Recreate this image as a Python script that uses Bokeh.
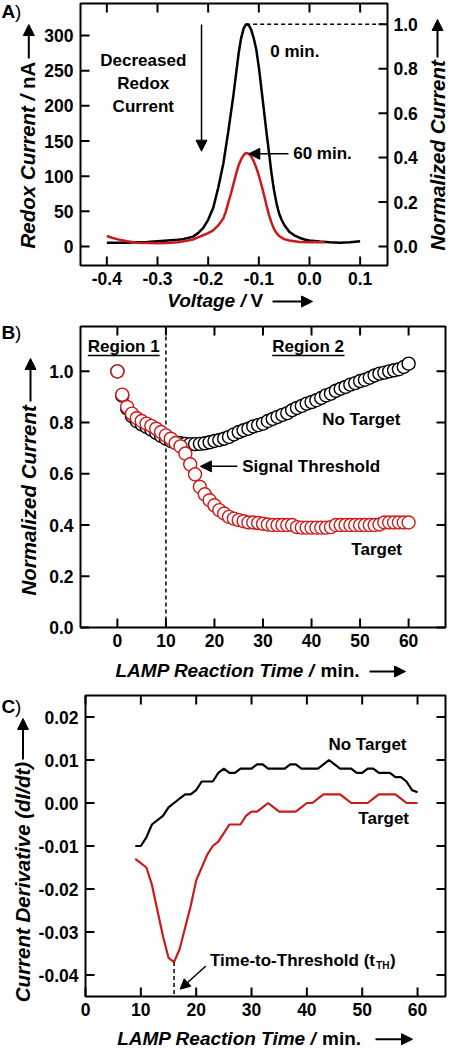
import math
from bokeh.plotting import figure
from bokeh.layouts import column
from bokeh.models import (Range1d, LinearAxis, FixedTicker, PrintfTickFormatter,
                          Label, Arrow, NormalHead)
from bokeh.embed import file_html
from bokeh.resources import INLINE

# ---------------- data ----------------
# Panel A: square-wave voltammograms
voltage_0min = [-0.40, -0.38, -0.36, -0.34, -0.32, -0.30, -0.28, -0.26, -0.25, -0.24, -0.23,
                -0.22, -0.21, -0.20, -0.19, -0.18, -0.17, -0.16, -0.15, -0.14, -0.135, -0.13,
                -0.125, -0.12, -0.115, -0.11, -0.105, -0.10, -0.095, -0.09, -0.085, -0.08,
                -0.075, -0.07, -0.065, -0.06, -0.055, -0.05, -0.04, -0.03, -0.02, -0.01,
                0.00, 0.02, 0.04, 0.06, 0.08, 0.10]
current_0min = [5.5, 5.5, 5.5, 6.0, 6.5, 7.5, 8.5, 9.5, 10.5, 12, 14,
                19, 26, 38, 55, 84, 118, 165, 216, 274, 296, 310,
                316, 315, 308, 296, 280, 255, 225, 194, 163, 134,
                104, 80, 61, 47, 38, 31, 21, 16, 12.5, 10,
                8.5, 7.0, 6.0, 5.5, 6.0, 7.5]
voltage_60min = [-0.40, -0.39, -0.38, -0.37, -0.36, -0.35, -0.34, -0.32, -0.30, -0.28, -0.26,
                 -0.24, -0.23, -0.22, -0.21, -0.20, -0.19, -0.18, -0.17, -0.165, -0.16, -0.155,
                 -0.15, -0.145, -0.14, -0.135, -0.13, -0.125, -0.12, -0.115, -0.11, -0.105,
                 -0.10, -0.095, -0.09, -0.085, -0.08, -0.075, -0.07, -0.065, -0.06, -0.05,
                 -0.04, -0.03, -0.02, 0.00, 0.03]
current_60min = [15, 12.5, 10.5, 9.0, 7.5, 6.5, 5.5, 5.0, 4.5, 5.0, 6.0,
                 8.5, 10, 13, 16, 19, 23, 30, 40, 50, 63, 75,
                 89, 103, 115, 124, 130, 133, 132, 128, 121, 112,
                 101, 88, 74, 59, 45, 34, 25, 19, 15, 10.5,
                 8.5, 7.5, 6.5, 6.0, 6.0]

# Panel B: normalized current vs LAMP time
time_b = list(range(0, 61))
norm_no_target = [1.000, 0.905, 0.855, 0.825, 0.805, 0.793, 0.783, 0.772, 0.760, 0.748,
                  0.737, 0.728, 0.722, 0.719, 0.717, 0.716, 0.716, 0.717, 0.719, 0.723,
                  0.728, 0.732, 0.737, 0.744, 0.754, 0.763, 0.770, 0.776, 0.785, 0.790,
                  0.796, 0.806, 0.814, 0.822, 0.830, 0.837, 0.848, 0.857, 0.865, 0.874,
                  0.880, 0.887, 0.896, 0.906, 0.913, 0.924, 0.932, 0.939, 0.948, 0.954,
                  0.962, 0.967, 0.975, 0.984, 0.991, 0.995, 1.000, 1.004, 1.008, 1.017,
                  1.030]
norm_target = [1.000, 0.909, 0.861, 0.835, 0.817, 0.806, 0.796, 0.787, 0.776, 0.763,
               0.750, 0.737, 0.720, 0.707, 0.679, 0.637, 0.598, 0.549, 0.520, 0.497,
               0.477, 0.458, 0.445, 0.432, 0.425, 0.419, 0.415, 0.410, 0.410, 0.408,
               0.405, 0.402, 0.400, 0.400, 0.400, 0.400, 0.400, 0.392, 0.390, 0.390,
               0.390, 0.390, 0.390, 0.390, 0.392, 0.400, 0.400, 0.400, 0.400, 0.400,
               0.400, 0.400, 0.400, 0.400, 0.402, 0.410, 0.410, 0.410, 0.410, 0.410,
               0.410]

# Panel C: current derivative vs LAMP time
time_c = list(range(9, 61))
deriv_no_target = [-0.010, -0.010, -0.008, -0.005, -0.004, -0.003, -0.001, 0.000, 0.001, 0.002,
                   0.002, 0.003, 0.005, 0.005, 0.005, 0.007, 0.008, 0.007, 0.007, 0.008,
                   0.008, 0.008, 0.009, 0.009, 0.008, 0.008, 0.008, 0.008, 0.009, 0.009,
                   0.008, 0.008, 0.008, 0.008, 0.009, 0.010, 0.009, 0.008, 0.008, 0.008,
                   0.007, 0.007, 0.008, 0.008, 0.007, 0.007, 0.007, 0.006, 0.006, 0.005,
                   0.003, 0.0025]
deriv_target = [-0.013, -0.014, -0.015, -0.019, -0.025, -0.031, -0.036, -0.037, -0.034, -0.029,
                -0.024, -0.018, -0.015, -0.012, -0.010, -0.009, -0.007, -0.005, -0.005, -0.005,
                -0.003, -0.002, -0.002, -0.001, 0.000, -0.001, -0.002, -0.002, -0.002, -0.002,
                -0.001, 0.000, 0.000, 0.001, 0.002, 0.002, 0.002, 0.002, 0.001, 0.000,
                0.000, 0.000, 0.000, 0.001, 0.002, 0.002, 0.002, 0.002, 0.001, 0.000,
                0.000, 0.000]

a_xticks = [-0.4, -0.3, -0.2, -0.1, 0.0, 0.1]
a_yticks = [0, 50, 100, 150, 200, 250, 300]
a_y2ticks = [0.0, 0.2, 0.4, 0.6, 0.8, 1.0]
b_xticks = [0, 10, 20, 30, 40, 50, 60]
b_yticks = [0.0, 0.2, 0.4, 0.6, 0.8, 1.0]
c_xticks = [0, 10, 20, 30, 40, 50, 60]
c_yticks = [-0.04, -0.03, -0.02, -0.01, 0.00, 0.01, 0.02]

# ---------------- styling helpers ----------------
FONT = "Liberation Sans"
RED = "#cc1a1a"
W_ALL = 449
TICK_LEN = 9


class Panel:
    """A figure whose frame fills the canvas; the plot box is drawn inside it.
    box_px = (left, top, right, bottom) canvas pixels,
    box_data = (x_left, x_right, y_bottom, y_top) data values of the box edges."""

    def __init__(self, height, box_px, box_data):
        L, T, R, B = box_px
        x0, x1, y0, y1 = box_data
        self.box = box_data
        self.sx = (x1 - x0) / (R - L)
        self.sy = (y1 - y0) / (B - T)
        self.xr = (x0 - L * self.sx, x1 + (W_ALL - R) * self.sx)
        self.yr = (y0 - (height - B) * self.sy, y1 + T * self.sy)
        p = figure(width=W_ALL, height=height,
                   x_range=Range1d(*self.xr), y_range=Range1d(*self.yr),
                   output_backend="svg", toolbar_location=None,
                   min_border_left=0, min_border_right=0,
                   min_border_top=0, min_border_bottom=0)
        p.frame_align = False
        p.background_fill_color = "white"
        p.border_fill_color = "white"
        p.outline_line_color = None
        p.grid.visible = False
        self.p = p

    def x(self, px):
        return self.xr[0] + px * self.sx

    def y(self, py):
        return self.yr[1] - py * self.sy

    def draw_box(self):
        x0, x1, y0, y1 = self.box
        self.p.quad(left=[x0], right=[x1], bottom=[y0], top=[y1], fill_color=None,
                    line_color="black", line_width=2)

    def draw_ticks(self, xticks, yticks, right_yticks=None):
        """Inward tick marks on all four sides of the box."""
        x0, x1, y0, y1 = self.box
        dx, dy = TICK_LEN * self.sx, TICK_LEN * self.sy
        ry = yticks if right_yticks is None else right_yticks
        n, m, k = len(xticks), len(yticks), len(ry)
        sx0 = list(xticks) * 2 + [x0] * m + [x1] * k
        sx1 = list(xticks) * 2 + [x0 + dx] * m + [x1 - dx] * k
        sy0 = [y0] * n + [y1] * n + list(yticks) + list(ry)
        sy1 = [y0 + dy] * n + [y1 - dy] * n + list(yticks) + list(ry)
        self.p.segment(x0=sx0, y0=sy0, x1=sx1, y1=sy1, line_color="black",
                       line_width=2)


def style_axis(ax, ticks, fmt, labels=True, standoff=6):
    ax.ticker = FixedTicker(ticks=ticks, minor_ticks=[])
    ax.formatter = PrintfTickFormatter(format=fmt)
    ax.axis_line_color = None
    ax.major_tick_line_color = None
    ax.minor_tick_line_color = None
    ax.major_tick_in = 0
    ax.major_tick_out = 0
    ax.minor_tick_in = 0
    ax.minor_tick_out = 0
    ax.major_label_text_font = FONT
    ax.major_label_text_font_style = "bold"
    ax.major_label_text_color = "black"
    ax.major_label_text_font_size = "17.5px"
    ax.major_label_standoff = standoff


def setup_axes(pn, xticks, xfmt, yticks, yfmt, right_range=None, right_ticks=None,
               right_fmt=None):
    p = pn.p
    x0, x1, y0, y1 = pn.box
    bx = p.below[0]
    style_axis(bx, xticks, xfmt, standoff=6)
    bx.fixed_location = y0
    ly = p.left[0]
    style_axis(ly, yticks, yfmt, standoff=7)
    ly.fixed_location = x0
    if right_range is not None:
        p.extra_y_ranges = {"right": right_range}
        right = LinearAxis(y_range_name="right", fixed_location=x1)
        style_axis(right, right_ticks, right_fmt, standoff=6)
        p.add_layout(right, "right")


def add_text(p, x, y, text, size="17px", style="bold", align="left",
             baseline="middle", angle=0.0, x_offset=0, y_offset=0):
    p.add_layout(Label(x=x, y=y, text=text, text_font=FONT, text_font_size=size,
                       text_font_style=style, text_align=align, text_baseline=baseline,
                       angle=angle, x_offset=x_offset, y_offset=y_offset,
                       text_color="black"))


def add_arrow(p, x0, y0, x1, y1, lw=1.5, size=10):
    p.add_layout(Arrow(end=NormalHead(size=size, fill_color="black", line_color="black",
                                      line_width=1),
                       x_start=x0, y_start=y0, x_end=x1, y_end=y1,
                       line_width=lw, line_color="black"))


def px_text(pn, px, py, text, **kw):
    add_text(pn.p, pn.x(px), pn.y(py), text, **kw)


def px_arrow(pn, px0, py0, px1, py1, lw=2, size=11):
    add_arrow(pn.p, pn.x(px0), pn.y(py0), pn.x(px1), pn.y(py1), lw=lw, size=size)


def panel_letter(pn, py, letter):
    px_text(pn, 1, py, letter, size="19px", style="bold")
    px_text(pn, 14.5, py, ")", size="19px", style="normal")


def hlabel(pn, px, py, italic_part, upright_part, upright_px, arrow_px0, arrow_px1):
    px_text(pn, px, py, italic_part, size="19px", style="bold italic")
    px_text(pn, upright_px, py, upright_part, size="19px", style="bold")
    px_arrow(pn, arrow_px0, py + 1, arrow_px1, py + 1)


def vlabel(pn, px, parts, arrow_px, arrow_py0, arrow_py1):
    """parts: list of (text, style, bottom_py) drawn upward."""
    for text, style, py in parts:
        px_text(pn, px, py, text, size="20.5px", style=style, angle=math.pi / 2)
    px_arrow(pn, arrow_px, arrow_py0, arrow_px, arrow_py1)


# ======================= Panel A =======================
peak_current = max(current_0min)
peak_voltage = voltage_0min[current_0min.index(peak_current)]
A = Panel(318, (80, 3, 387, 265), (-0.452, 0.154, -27.0, 345.5))
pA = A.p
setup_axes(A, a_xticks, "%.1f", a_yticks, "%d",
           right_range=Range1d(A.yr[0] / peak_current, A.yr[1] / peak_current),
           right_ticks=a_y2ticks, right_fmt="%.1f")

pA.line(voltage_0min, current_0min, line_color="black", line_width=2.5)
pA.line(voltage_60min, current_60min, line_color=RED, line_width=2.5)
pA.segment(x0=[peak_voltage], y0=[peak_current], x1=[A.box[1]], y1=[peak_current],
           line_color="black", line_width=1.5, line_dash="4 3")
A.draw_ticks(a_xticks, a_yticks, [t * peak_current for t in a_y2ticks])
A.draw_box()

for txt, yv in zip(["Decreased", "Redox", "Current"], [264.5, 231.3, 199.0]):
    add_text(pA, -0.328, yv, txt, align="center")
add_arrow(pA, -0.2131, 315.7, -0.2131, 135.5, lw=1.5, size=11)
add_text(pA, -0.0773, 277.7, "0 min.")
add_text(pA, -0.0322, 131.8, "60 min.")
add_arrow(pA, -0.0415, 131.8, -0.1198, 131.8, lw=1.5, size=11)

panel_letter(A, 11, "A")
vlabel(A, 26.7, [("Redox Current /", "bold italic", 248), ("nA", "bold", 88.5)],
       28.3, 58, 24)
vlabel(A, 436.5, [("Normalized Current", "bold italic", 250)], 437, 57, 19)
hlabel(A, 166.7, 300, "Voltage /", "V", 250, 272, 312)

# ======================= Panel B =======================
B = Panel(370, (80, 8, 445, 309), (-7.6, 67.6, 0.0, 1.175))
pB = B.p
setup_axes(B, b_xticks, "%d", b_yticks, "%.1f")

pB.segment(x0=[10], y0=[B.box[2]], x1=[10], y1=[B.box[3]], line_color="black",
           line_width=1.5, line_dash="4 3")
pB.scatter(time_b, norm_no_target, marker="circle", size=13, line_color="black",
           line_width=1.4, fill_color="white")
pB.scatter(time_b, norm_target, marker="circle", size=13, line_color=RED,
           line_width=1.4, fill_color="white")
B.draw_ticks(b_xticks, b_yticks)
B.draw_box()

add_text(pB, 1.3, 1.095, "Region 1", align="center")
add_text(pB, 39.3, 1.095, "Region 2", align="center")
pB.segment(x0=[-6.1, 31.9], y0=[1.062, 1.062], x1=[8.7, 46.8], y1=[1.062, 1.062],
           line_color="black", line_width=1.5)
add_text(pB, 42.2, 0.813, "No Target")
add_text(pB, 48.2, 0.305, "Target")
add_text(pB, 25.7, 0.629, "Signal Threshold")
add_arrow(pB, 24.7, 0.629, 17.1, 0.629, lw=1.5, size=11)

panel_letter(B, 13.7, "B")
vlabel(B, 28.3, [("Normalized Current", "bold italic", 277)], 30, 83, 40)
hlabel(B, 115, 352, "LAMP Reaction Time /", "min.", 320, 369, 405)

# ======================= Panel C =======================
C = Panel(362, (85, 7, 445, 308), (0.0, 65.05, -0.045, 0.025))
pC = C.p
setup_axes(C, c_xticks, "%d", c_yticks, "%.2f")

pC.line(time_c, deriv_no_target, line_color="black", line_width=2.2)
pC.line(time_c, deriv_target, line_color=RED, line_width=2.2)
t_min = time_c[deriv_target.index(min(deriv_target))]
pC.segment(x0=[t_min], y0=[min(deriv_target)], x1=[t_min], y1=[C.box[2]],
           line_color="black", line_width=1.5, line_dash="4 3")
C.draw_ticks(c_xticks, c_yticks)
C.draw_box()

add_text(pC, 43.9, 0.0136, "No Target")
add_text(pC, 49.3, -0.0037, "Target")
add_text(pC, 22.5, -0.0366, "Time-to-Threshold (t")
add_text(pC, 22.5, -0.0366, "TH", size="10px", x_offset=166, y_offset=-5)
add_text(pC, 22.5, -0.0366, ")", x_offset=180)
add_arrow(pC, 21.75, -0.0379, 17.1, -0.0433, lw=1.5, size=10)

panel_letter(C, 17.8, "C")
vlabel(C, 21.7, [("Current Derivative (dI/dt)", "bold italic", 313.7)], 22.5, 71, 30)
hlabel(C, 116.7, 349.7, "LAMP Reaction Time /", "min.", 321.5, 375, 412)

layout = column(pA, pB, pC)
open("out.html", "w").write(file_html(layout, INLINE))
